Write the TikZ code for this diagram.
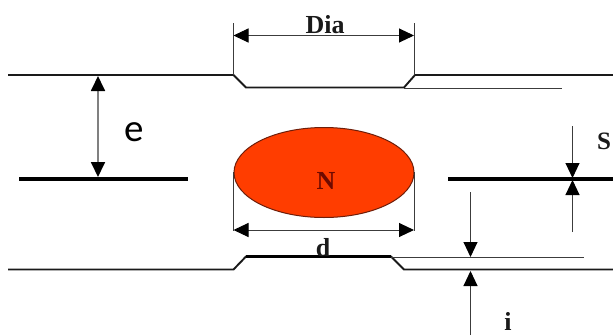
\documentclass[tikz,border=0pt]{standalone}
\usepackage{fontspec}
\setmainfont{Liberation Serif}
\newfontfamily\calib{Carlito}
\usetikzlibrary{arrows.meta,shapes.geometric}
\definecolor{inkc}{HTML}{1A1A1A}
\definecolor{nfill}{RGB}{255,61,0}
\definecolor{nedge}{RGB}{110,30,10}
\definecolor{ntext}{RGB}{110,10,0}
\tikzset{
  wall/.style={draw=inkc,line width=1.9pt,line join=miter},
  thinwall/.style={draw=inkc!85,line width=0.9pt},
  rib/.style={draw=black,line width=4pt},
  dim/.style={draw=inkc!85,line width=1pt},
  grayDim/.style={draw=black!50,line width=1.8pt},
  headA/.style={-{Triangle[length=15pt,width=14pt,fill=black,color=black]}},
  headB/.style={{Triangle[length=15pt,width=14pt,fill=black,color=black]}-{Triangle[length=15pt,width=14pt,fill=black,color=black]}},
  lab/.style={font=\bfseries\fontsize{26}{26}\selectfont,text=inkc,inner sep=0pt,anchor=base},
}
\begin{document}
\begin{tikzpicture}[x=1pt,y=-1pt]
\useasboundingbox (0,0) rectangle (613,335);
% walls
\draw[wall] (8,75) -- (233.5,75) -- (246,87.5) -- (404,87.5) -- (415,75) -- (613,75);
\draw[thinwall] (404,88) -- (562,88);
\draw[wall] (8,269.5) -- (233.5,269.5) -- (246,256.5) -- (391,256.5) -- (404,269.5) -- (613,269.5);
\draw[draw=black,line width=2.6pt] (246,256.5) -- (391,256.5);
\draw[thinwall] (391,257) -- (584,257);
\draw[rib] (19,178.5) -- (188,178.5);
\draw[rib] (448,178.5) -- (613,178.5);
% ellipse
\node[draw=nedge,line width=1pt,fill=nfill,ellipse,minimum width=180pt,minimum height=90pt,inner sep=0pt] (ell) at (324,172.5) {};
\node[lab,text=ntext] (nlabel) at (326,189) {N};
% named points
\coordinate (diaL) at (233.5,23);
\coordinate (diaLb) at (233.5,75);
\coordinate (diaR) at (414,23);
\coordinate (diaRb) at (414,75);
\coordinate (diaA) at (233.5,35.5);
\coordinate (diaB) at (414,35.5);
\coordinate (dL) at (233.5,172);
\coordinate (dLb) at (233.5,231);
\coordinate (dR) at (414,172);
\coordinate (dRb) at (414,231);
\coordinate (dA) at (233.5,230);
\coordinate (dB) at (414,230);
\coordinate (eT) at (98,76);
\coordinate (eB) at (98,177);
\coordinate (sTop) at (572.5,126);
\coordinate (sTopEnd) at (572.5,178);
\coordinate (sBot) at (572.5,232);
\coordinate (sBotEnd) at (572.5,180);
\coordinate (iTop) at (470.5,192);
\coordinate (iTopEnd) at (470.5,257);
\coordinate (iBot) at (470.5,335);
\coordinate (iBotEnd) at (470.5,271);
% dimensions
\draw[dim] (diaL) -- (diaLb);
\draw[dim] (diaR) -- (diaRb);
\draw[dim,headB] (diaA) -- (diaB);
\draw[dim] (dL) -- (dLb);
\draw[dim] (dR) -- (dRb);
\draw[dim,headB] (dA) -- (dB);
\draw[grayDim,headB] (eT) -- (eB);
\draw[dim,headA] (sTop) -- (sTopEnd);
\draw[dim,headA] (sBot) -- (sBotEnd);
\draw[dim,headA] (iTop) -- (iTopEnd);
\draw[dim,headA] (iBot) -- (iBotEnd);
% labels
\node[lab] (dia) at (325,33) {Dia};
\node[lab] (dl) at (323,256) {d};
\node[lab,anchor=base west,font=\bfseries\fontsize{25}{25}\selectfont] (sl) at (597,149) {S};
\node[lab] (il) at (508,330) {i};
\node[inner sep=0pt,anchor=base,font=\calib\fontsize{39}{39}\selectfont] (el) at (134,141) {e};
\end{tikzpicture}
\end{document}
